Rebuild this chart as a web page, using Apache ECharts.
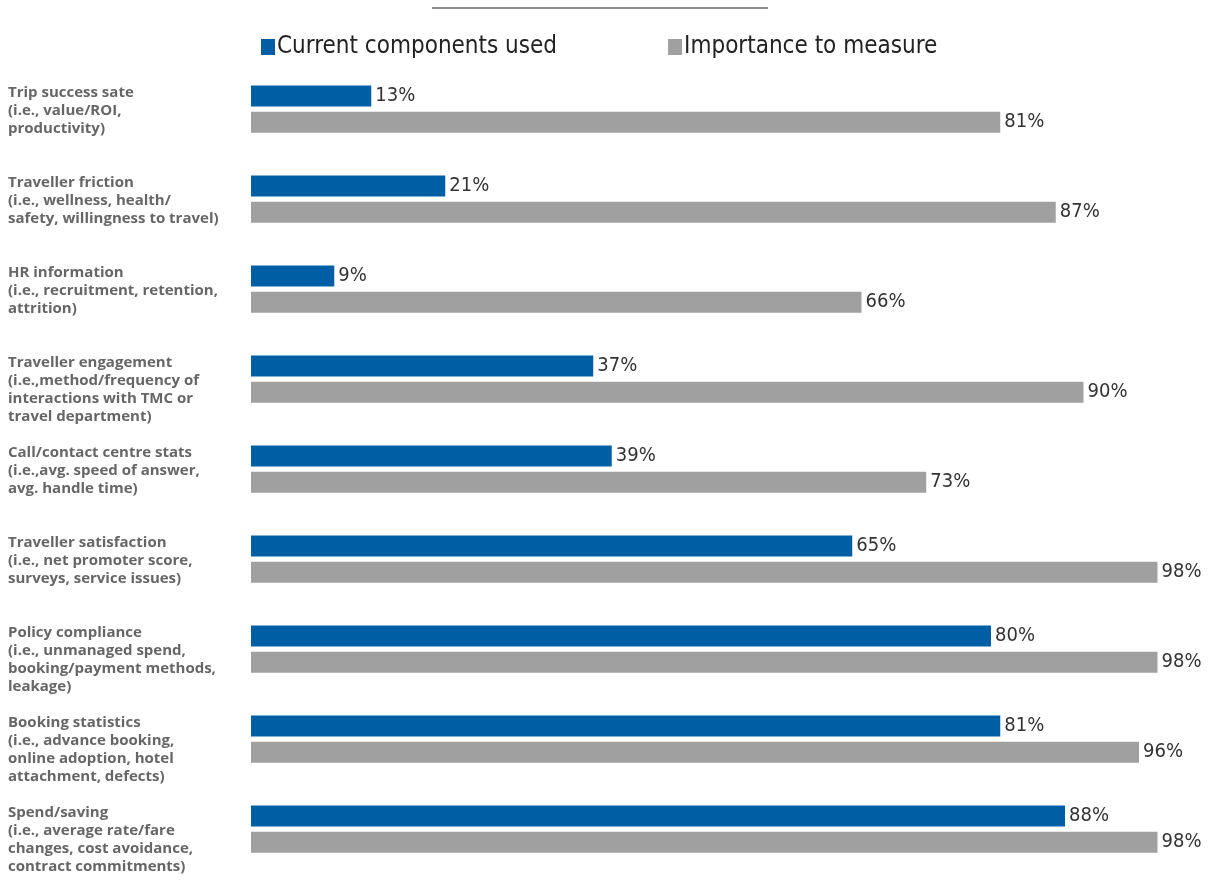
<!DOCTYPE html>
<html><head><meta charset="utf-8">
<script src="https://cdn.jsdelivr.net/npm/echarts@6/dist/echarts.min.js"></script>
<style>html,body{margin:0;padding:0;background:#fff}#c{width:1214px;height:881px}</style>
</head><body><div id="c"></div>
<script>
const categories = [
  "Trip success sate\n(i.e., value/ROI,\nproductivity)",
  "Traveller friction\n(i.e., wellness, health/\nsafety, willingness to travel)",
  "HR information\n(i.e., recruitment, retention,\nattrition)",
  "Traveller engagement\n(i.e.,method/frequency of\ninteractions with TMC or\ntravel department)",
  "Call/contact centre stats\n(i.e.,avg. speed of answer,\navg. handle time)",
  "Traveller satisfaction\n(i.e., net promoter score,\nsurveys, service issues)",
  "Policy compliance\n(i.e., unmanaged spend,\nbooking/payment methods,\nleakage)",
  "Booking statistics\n(i.e., advance booking,\nonline adoption, hotel\nattachment, defects)",
  "Spend/saving\n(i.e., average rate/fare\nchanges, cost avoidance,\ncontract commitments)"
];
const seriesNames = ["Current components used", "Importance to measure"];
const currentUsed = [13, 21, 9, 37, 39, 65, 80, 81, 88];
const importance = [81, 87, 66, 90, 73, 98, 98, 96, 98];

const chart = echarts.init(document.getElementById('c'), null, {renderer: 'canvas'});
const valueFont = "'DejaVu Sans Condensed', 'Liberation Sans Narrow', sans-serif";
chart.setOption({
  animation: false,
  backgroundColor: '#fff',
  legend: {
    data: seriesNames,
    left: 256, top: 30,
    itemWidth: 14, itemHeight: 16, itemGap: 111,
    icon: 'rect',
    textStyle: {fontFamily: valueFont, fontSize: 24, color: '#222', padding: [0,0,0,-3]}
  },
  graphic: [{
    type: 'line', shape: {x1: 432, y1: 8, x2: 768, y2: 8},
    style: {stroke: '#8c8c8c', lineWidth: 2}
  }],
  grid: {left: 251, right: 38, top: 64, bottom: 7, containLabel: false},
  xAxis: {type: 'value', min: 0, max: 100, show: false},
  yAxis: {
    type: 'category', data: categories, inverse: true,
    axisLine: {show: false}, axisTick: {show: false},
    axisLabel: {
      align: 'left', margin: 243, verticalAlign: 'top',
      padding: [-25, 0, 0, 0],
      fontFamily: "'Open Sans', Lato, sans-serif", fontWeight: 'bold',
      fontSize: 15, lineHeight: 18, color: '#666666'
    }
  },
  series: [
    {name: seriesNames[0], type: 'bar', data: currentUsed, barWidth: 21, barGap: '25%',
     itemStyle: {color: '#005ea5'},
     label: {show: true, position: 'right', distance: 4, formatter: '{c}%',
       fontFamily: valueFont, fontSize: 20, color: '#333'}},
    {name: seriesNames[1], type: 'bar', data: importance, barWidth: 21,
     itemStyle: {color: '#a0a0a0'},
     label: {show: true, position: 'right', distance: 4, formatter: '{c}%',
       fontFamily: valueFont, fontSize: 20, color: '#333'}}
  ]
});
</script></body></html>
